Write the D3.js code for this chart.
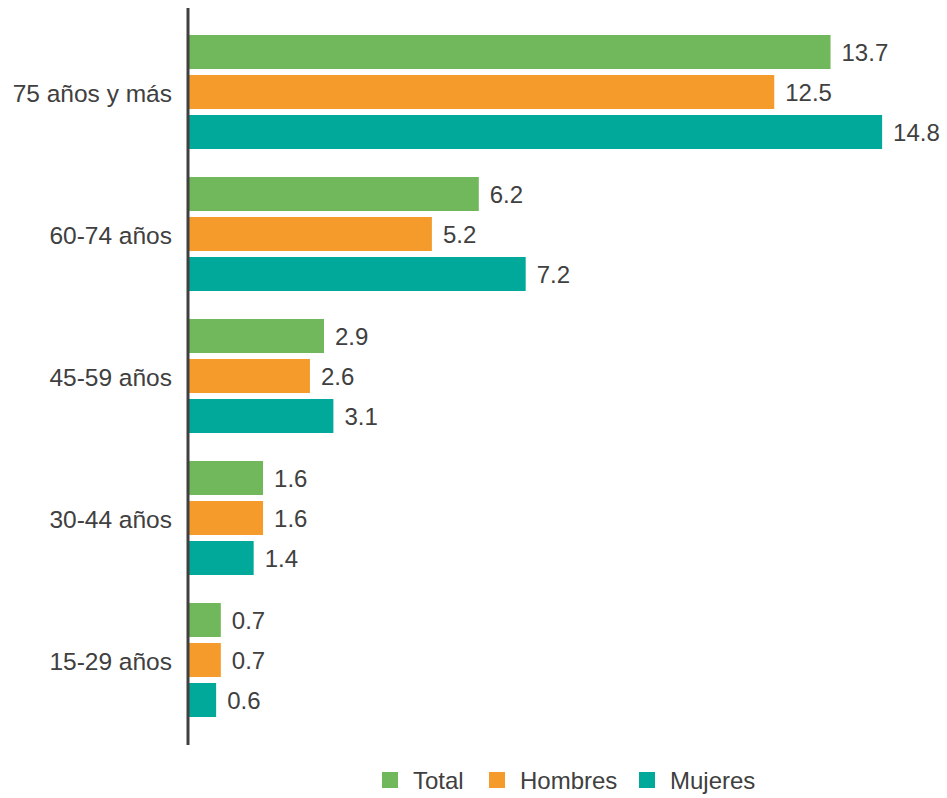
<!DOCTYPE html>
<html><head><meta charset="utf-8">
<script src="https://cdn.jsdelivr.net/npm/d3@7"></script>
<style>body{margin:0;background:#fff;}svg{display:block;}</style>
</head><body>
<script>
const categories = ["75 años y más","60-74 años","45-59 años","30-44 años","15-29 años"];
const seriesNames = ["Total","Hombres","Mujeres"];
const totalValues = [13.7, 6.2, 2.9, 1.6, 0.7];
const hombresValues = [12.5, 5.2, 2.6, 1.6, 0.7];
const mujeresValues = [14.8, 7.2, 3.1, 1.4, 0.6];
const colors = ["#71b75c","#f49b2b","#00a99a"];

const W = 947, H = 798;
const svg = d3.select("body").append("svg").attr("width", W).attr("height", H);
const font = "'Liberation Sans', Arial, sans-serif";
const textColor = "#404040";

const seriesValues = [totalValues, hombresValues, mujeresValues];
const data = categories.map((c, i) => ({cat: c, vals: seriesNames.map((s, j) => ({name: s, v: seriesValues[j][i]}))}));

const y0 = d3.scaleBand().domain(categories).range([35, 717]).paddingInner(28/142).paddingOuter(0);
const y1 = d3.scaleBand().domain(seriesNames).range([0, y0.bandwidth()]).paddingInner(0.15);
const x = d3.scaleLinear().domain([0, 15]).range([188, 188 + 15*46.9]);
const color = d3.scaleOrdinal().domain(seriesNames).range(colors);

const g = svg.selectAll("g.grp").data(data).enter().append("g")
  .attr("transform", d => `translate(0,${y0(d.cat)})`);

g.selectAll("rect").data(d => d.vals).enter().append("rect")
  .attr("x", x(0)).attr("y", d => y1(d.name))
  .attr("width", d => x(d.v) - x(0)).attr("height", y1.bandwidth())
  .attr("fill", d => color(d.name));

g.selectAll("text.val").data(d => d.vals).enter().append("text")
  .attr("class","val")
  .attr("x", d => x(d.v) + 11).attr("y", d => y1(d.name) + y1.bandwidth()/2)
  .attr("dy","0.38em")
  .attr("font-family", font).attr("font-size", 24).attr("fill", textColor)
  .text(d => d.v.toFixed(1));

// category axis
const yAxis = d3.axisLeft(y0).tickSize(0).tickPadding(16);
const ax = svg.append("g").attr("transform", "translate(188,0)").call(yAxis);
ax.select(".domain").remove();
ax.selectAll("text").attr("font-family", font).attr("font-size", 24.5).attr("fill", textColor).attr("dy","0.42em");
svg.append("line").attr("x1",188).attr("x2",188).attr("y1",8).attr("y2",745)
  .attr("stroke","#404040").attr("stroke-width",3);

// legend
const legendX = [382, 489, 639];
const lg = svg.selectAll("g.leg").data(seriesNames).enter().append("g")
  .attr("transform", (d,i) => `translate(${legendX[i]},772)`);
lg.append("rect").attr("width",16).attr("height",16).attr("fill", d => color(d));
lg.append("text").attr("x", 31).attr("y", 8).attr("dy","0.38em")
  .attr("font-family", font).attr("font-size", 24).attr("fill", textColor).text(d => d);
</script>
</body></html>
